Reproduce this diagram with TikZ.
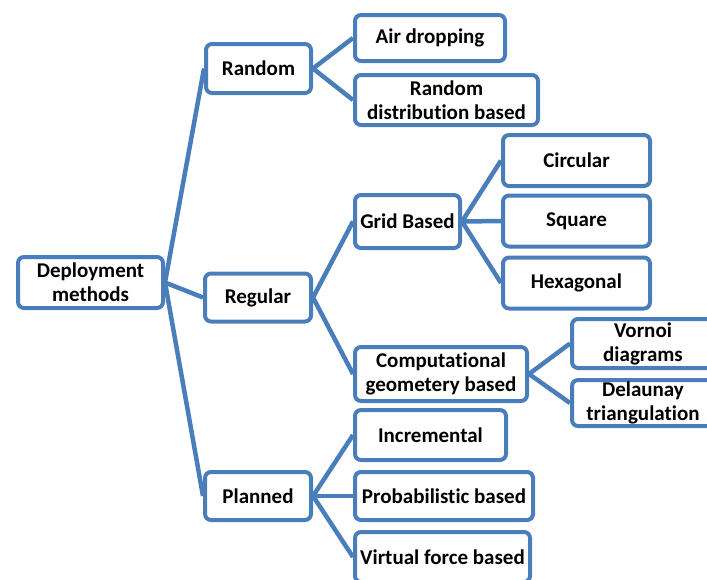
\documentclass[tikz,border=0pt]{standalone}
\usepackage{fontspec}
\setmainfont{Carlito}[Ligatures=NoCommon]
\usetikzlibrary{arrows}

\definecolor{boxblue}{RGB}{74,126,187}

\begin{document}
\begin{tikzpicture}[x=1pt, y=-1pt, line width=4pt, draw=boxblue,
  box/.style={rectangle, rounded corners=6pt, draw=boxblue, fill=white, align=center,
    inner sep=0pt, font=\fontsize{21}{24}\selectfont\bfseries},
  edge/.style={boxblue, line width=4.5pt}]
\clip (0,0) rectangle (707,579);
\node[box, minimum width=145pt, minimum height=51pt](deploy) at (90.5,282.5){Deployment\\methods};
% second level
\node[box, minimum width=105pt, minimum height=49pt](random) at (258.5,68.5){Random};
\node[box, minimum width=106pt, minimum height=48pt](regular) at (258,297.5){Regular};
\node[box, minimum width=106pt, minimum height=48pt](planned) at (258,496){Planned};
% random
\node[box, minimum width=150pt, minimum height=46pt](air) at (430,38){Air dropping};
\node[box, minimum width=183pt, minimum height=50pt](rdist) at (446.5,100){Random\\distribution based};
% regular
\node[box, minimum width=105pt, minimum height=53pt](grid) at (407.5,221.5){Grid Based};
\node[box, minimum width=172pt, minimum height=54pt](comp) at (441,374){Computational\\geometery based};
\foreach \s/\t/\y in {circular/Circular/160.5, square/Square/221, hexagonal/Hexagonal/283}{
    \node[box, minimum width=147pt, minimum height=51pt](\s) at (576.5,\y){\t};}
\node[box, minimum width=142pt, minimum height=49pt](vornoi) at (643,343.5){Vornoi\\diagrams};
\node[box, minimum width=142pt, minimum height=46pt](delaunay) at (643,403){Delaunay\\triangulation};
% planned
\node[box, minimum width=151pt, minimum height=50pt](incr) at (430.5,435){Incremental};
\node[box, minimum width=178pt, minimum height=48pt](prob) at (444,496){Probabilistic based};
\node[box, minimum width=175pt, minimum height=50pt](virt) at (442.5,557){Virtual force based};
% connectors
\foreach \s/\t in {deploy/random, deploy/regular, deploy/planned, random/air, random/rdist,
    regular/grid, regular/comp, grid/circular, grid/square, grid/hexagonal,
    comp/vornoi, comp/delaunay, planned/incr, planned/prob, planned/virt}{
    \draw[edge] (\s.east) -- (\t.west);}
\end{tikzpicture}
\end{document}
